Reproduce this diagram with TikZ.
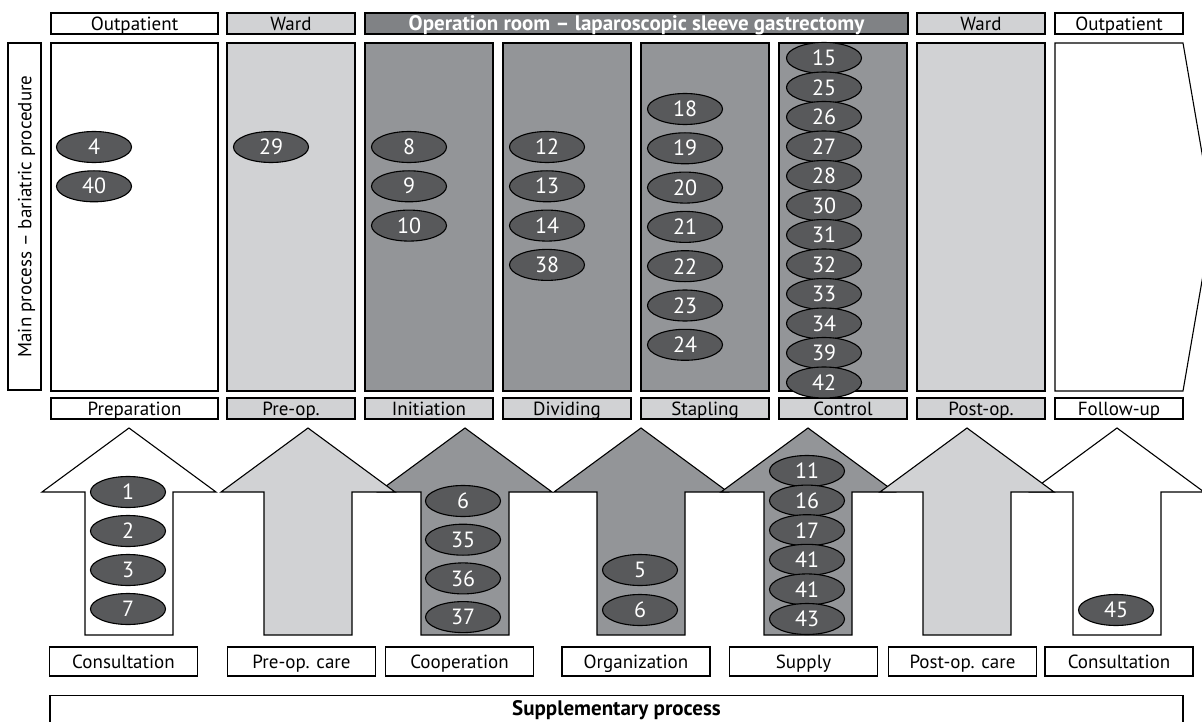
\documentclass[tikz,border=0pt]{standalone}
\usepackage{fontspec}
\setmainfont{PT Sans}
\usetikzlibrary{shapes.geometric}
\definecolor{lightgrey}{HTML}{D1D2D4}
\definecolor{midgrey}{HTML}{939598}
\definecolor{darkgrey}{HTML}{808285}
\definecolor{ovalgrey}{HTML}{58595B}

\begin{document}
\begin{tikzpicture}[x=1pt,y=-1pt,line width=1.1pt,font=\fontsize{19}{21}\selectfont]
    \tikzset{area/.style={draw,minimum height=21pt,inner sep=0pt,text height=13.5pt,text depth=0pt},
        column/.style={draw,minimum width=128pt,minimum height=348pt,inner sep=0pt},
        oval/.style={ellipse,draw,fill=ovalgrey,text=white,minimum width=75pt,minimum height=31pt,inner sep=0pt,font=\fontsize{22}{24}\selectfont},
        support/.style={draw,minimum width=148pt,minimum height=29pt,inner sep=0pt,text height=13.5pt,text depth=0pt}}
    \useasboundingbox (0,0) rectangle (1202,722);
    % locations
    \node[area,minimum width=167pt] (loc1) at (134.5,23.5) {Outpatient};
    \node[area,fill=lightgrey,minimum width=128pt] (loc2) at (291,23.5) {Ward};
    \node[area,fill=darkgrey,text=white,minimum width=543pt,font=\fontsize{21}{23}\selectfont\bfseries] (loc3) at (636.5,23.5) {Operation room – laparoscopic sleeve gastrectomy};
    \node[area,fill=lightgrey,minimum width=128pt] (loc4) at (981,23.5) {Ward};
    \node[area,minimum width=128pt] (loc5) at (1119,23.5) {Outpatient};
    % main process
    \node[draw,rotate=90,minimum width=347pt,minimum height=33pt,inner sep=0pt,text height=13.5pt,text depth=0pt] (main) at (24.5,216.5) {Main process – bariatric procedure};
    \node[column,minimum width=167pt] (col1) at (134.5,217) {};
    \foreach \i/\x/\fc in {2/291/lightgrey,3/429/midgrey,4/567/midgrey,5/705/midgrey,6/843/midgrey,7/981/lightgrey}
        \node[column,fill=\fc] (col\i) at (\x,217) {};
    \draw (1055,43) -- (1183,43) -- (1213,217) -- (1183,391) -- (1055,391) -- cycle;
    % phases
    \node[area,minimum width=167pt] (ph1) at (134.5,408.5) {Preparation};
    \foreach \i/\x/\fc/\txt in {2/291/lightgrey/Pre-op.,3/429/lightgrey/Initiation,4/567/lightgrey/Dividing,5/705/lightgrey/Stapling,6/843/lightgrey/Control,7/981/lightgrey/Post-op.,8/1119/white/Follow-up}
        \node[area,fill=\fc,minimum width=128pt] (ph\i) at (\x,408.5) {\txt};
    % steps in the columns
    \foreach \n [count=\k from 0] in {4,40} \node[oval] (m\n) at (94,147+39.3*\k) {\n};
    \node[oval] (m29) at (271,147) {29};
    \foreach \n [count=\k from 0] in {8,9,10} \node[oval] (m\n) at (409,147+39.3*\k) {\n};
    \foreach \n [count=\k from 0] in {12,13,14,38} \node[oval] (m\n) at (547,147+39.3*\k) {\n};
    \foreach \n [count=\k from 0] in {18,19,20,21,22,23,24} \node[oval] (m\n) at (685,109+39.3*\k) {\n};
    \foreach \n [count=\k from 0] in {15,25,26,27,28,30,31,32,33,34,39,42} \node[oval] (m\n) at (824,58+29.5*\k) {\n};
    % supplementary arrows
    \foreach \ax/\fc in {129/white,465/midgrey,641/midgrey,808/midgrey,1117/white,308/lightgrey,967/lightgrey}
        \draw[fill=\fc] (\ax,428) -- (\ax+87,492) -- (\ax+44,492) -- (\ax+44,635) -- (\ax-44,635) -- (\ax-44,492) -- (\ax-87,492) -- cycle;
    \foreach \n [count=\k from 0] in {1,2,3,7} \node[oval] (s1-\k) at (128,492+39*\k) {\n};
    \foreach \n [count=\k from 0] in {6,35,36,37} \node[oval] (s3-\k) at (463,501+38.7*\k) {\n};
    \foreach \n [count=\k from 0] in {5,6} \node[oval] (s4-\k) at (640,570+40*\k) {\n};
    \foreach \n [count=\k from 0] in {11,16,17,41,41,43} \node[oval] (s5-\k) at (807,471+29.6*\k) {\n};
    \node[oval] (s7-0) at (1116,610) {45};
    % supplementary process
    \foreach \i/\x/\txt in {1/123.5/Consultation,2/301.5/Pre-op. care,3/459.5/Cooperation,4/636/Organization,5/803.5/Supply,6/962.5/Post-op. care,7/1119/Consultation}
        \node[support] (sup\i) at (\x,661.5) {\txt};
    \node[draw,anchor=north,minimum width=1133pt,minimum height=60pt,inner sep=0pt] (supp) at (616.5,695) {};
    \node[font=\fontsize{21}{23}\selectfont\bfseries] (supptext) at (616.5,710) {Supplementary process};
\end{tikzpicture}
\end{document}
